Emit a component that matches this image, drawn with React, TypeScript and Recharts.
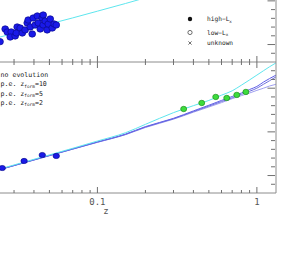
import React from "react";
import { ComposedChart, Line, Scatter, XAxis, YAxis } from "recharts";

// x axis (redshift, log)
const Z_MIN = 0.0103;
const Z_MAX = 1.318;
const X_MINOR = [0.02, 0.03, 0.04, 0.05, 0.06, 0.07, 0.08, 0.09, 0.2, 0.3, 0.4, 0.5, 0.6, 0.7, 0.8, 0.9];
const X_MAJOR = [0.1, 1];
const Y_TICKS = [1, 2, 3, 4, 5, 6, 7, 8, 9, 10, 11, 12, 13, 14];
const Y_MAJOR = [2, 7, 12];

// upper panel: high-Lx clusters
const topZ = [0.0245, 0.0264, 0.0272, 0.0288, 0.0284, 0.0305, 0.0314, 0.031, 0.0328, 0.0338, 0.0352, 0.0363, 0.0368, 0.0379, 0.039, 0.0396, 0.0407, 0.042, 0.0426, 0.0438, 0.0451, 0.0457, 0.0457, 0.0471, 0.0484, 0.0492, 0.0506, 0.0521, 0.0536, 0.0552];
const topV = [2.33, 3.78, 3.44, 3.44, 2.86, 2.98, 4.01, 3.32, 3.89, 3.32, 3.67, 4.47, 4.81, 4.01, 3.21, 5.04, 4.24, 5.27, 4.47, 3.78, 5.04, 4.24, 5.38, 4.7, 3.67, 4.35, 4.93, 3.89, 4.35, 4.24];
const topLineZ = [0.0103, 0.02, 0.03, 0.05, 0.07, 0.1, 0.15, 0.2, 0.3];
const topLineV = [1.06, 2.44, 3.28, 4.35, 5.05, 5.82, 6.7, 7.35, 8.2];

// lower panel
const lineZ = [0.0103, 0.02, 0.03, 0.05, 0.07, 0.1, 0.15, 0.2, 0.3, 0.4, 0.5, 0.6, 0.7, 0.8, 0.9, 1.0, 1.1, 1.2, 1.318];
const cyanV = [0.76, 2.29, 3.21, 4.36, 5.12, 5.95, 6.9, 7.86, 9.2, 10.0, 10.6, 11.2, 11.7, 12.35, 12.95, 13.5, 14.0, 14.45, 14.9];
const blueV = [0.7, 2.25, 3.15, 4.3, 5.05, 5.85, 6.75, 7.6, 8.55, 9.4, 10.05, 10.6, 11.05, 11.45, 11.85, 12.2, 12.7, 13.1, 13.5];
const slateV = [0.7, 2.24, 3.14, 4.28, 5.03, 5.82, 6.7, 7.55, 8.5, 9.32, 9.95, 10.47, 10.9, 11.3, 11.65, 12.0, 12.45, 12.85, 13.3];
const lavenderV = [0.7, 2.23, 3.13, 4.27, 5.02, 5.8, 6.68, 7.5, 8.45, 9.25, 9.85, 10.35, 10.8, 11.15, 11.45, 11.75, 12.0, 12.25, 12.45];
const nearZ = [0.0253, 0.0347, 0.0451, 0.0552];
const nearV = [2.86, 3.67, 4.35, 4.24];
const farZ = [0.3475, 0.451, 0.552, 0.647, 0.748, 0.853];
const farV = [9.62, 10.31, 11.0, 10.88, 11.23, 11.57];

const zip = (zs: number[], vs: number[]) => zs.map((z, i) => ({ z, v: vs[i] }));

const AXIS = "#8c8c8c";
const TICK = "#707070";
const MONO = "'DejaVu Sans Mono', monospace";

function XTick(props: any) {
  const { x, y, payload, labels, both } = props;
  const major = X_MAJOR.includes(payload.value);
  const len = major ? 6 : 3;
  return (
    <g>
      <line x1={x} x2={x} y1={both ? y + len : y} y2={y - len} stroke={TICK} strokeWidth={1} />
      {labels && major && (
        <text x={x} y={y + 12} textAnchor="middle" fontSize={9} fontFamily={MONO} fill="#555">
          {payload.value}
        </text>
      )}
    </g>
  );
}

function YTick(props: any) {
  const { x, y, payload } = props;
  const len = Y_MAJOR.includes(payload.value) ? 7.5 : 4;
  return <line x1={x - 1} x2={x - 1 - len} y1={y} y2={y} stroke={TICK} strokeWidth={1} />;
}

const dotShape = (fill: string, stroke: string, rx: number, ry: number) => (p: any) => (
  <ellipse cx={p.cx} cy={p.cy} rx={rx} ry={ry} fill={fill} stroke={stroke} strokeWidth={0.7} />
);

export default function App() {
  const xAxisCommon = {
    dataKey: "z",
    type: "number" as const,
    scale: "log" as const,
    domain: [Z_MIN, Z_MAX],
    allowDataOverflow: true,
    ticks: [...X_MINOR, ...X_MAJOR],
    interval: 0 as const,
    tickLine: false,
    tickSize: 0,
    tickMargin: 0,
    stroke: AXIS,
  };
  const yAxisCommon = {
    dataKey: "v",
    type: "number" as const,
    orientation: "right" as const,
    width: 1,
    mirror: true,
    domain: [0, 15],
    allowDataOverflow: true,
    ticks: Y_TICKS,
    interval: 0 as const,
    tickLine: false,
    tickSize: 0,
    tickMargin: 0,
    stroke: AXIS,
    tick: (p: any) => <YTick {...p} />,
  };

  return (
    <div style={{ position: "absolute", left: 0, top: 0, width: 282, height: 257, overflow: "hidden", background: "#fff" }}>
      <div style={{ position: "absolute", left: -60, top: 0 }}>
        <ComposedChart width={342} height={257} margin={{ top: 62, right: 6, bottom: 0, left: 0 }}>
          <XAxis {...xAxisCommon} height={64} tick={(p: any) => <XTick {...p} labels />} />
          <YAxis {...yAxisCommon} />
          <Line data={zip(lineZ, lavenderV)} dataKey="v" stroke="#a0a0f0" strokeWidth={1} dot={false} type="monotone" isAnimationActive={false} />
          <Line data={zip(lineZ, slateV)} dataKey="v" stroke="#7070dc" strokeWidth={1} dot={false} type="monotone" isAnimationActive={false} />
          <Line data={zip(lineZ, blueV)} dataKey="v" stroke="#6060e8" strokeWidth={1} dot={false} type="monotone" isAnimationActive={false} />
          <Line data={zip(lineZ, cyanV)} dataKey="v" stroke="#5ee6ee" strokeWidth={1} dot={false} type="monotone" isAnimationActive={false} />
          <Scatter data={zip(nearZ, nearV)} dataKey="v" shape={dotShape("#1a1ae8", "#0a0a90", 3.2, 2.6)} isAnimationActive={false} />
          <Scatter data={zip(farZ, farV)} dataKey="v" shape={dotShape("#3cdc3c", "#1e901e", 3.0, 2.7)} isAnimationActive={false} />
        </ComposedChart>
      </div>
      <div style={{ position: "absolute", left: -60, top: -69 }}>
        <ComposedChart width={342} height={141} margin={{ top: 0, right: 6, bottom: 0, left: 0 }}>
          <XAxis {...xAxisCommon} height={10} tick={(p: any) => <XTick {...p} both />} />
          <YAxis {...yAxisCommon} />
          <Line data={zip(topLineZ, topLineV)} dataKey="v" stroke="#5ee6ee" strokeWidth={1} dot={false} type="linear" isAnimationActive={false} />
          <Scatter data={zip(topZ, topV)} dataKey="v" shape={dotShape("#1a1ae8", "#0a0a90", 3.4, 3.2)} isAnimationActive={false} />
        </ComposedChart>
      </div>
      <svg width={282} height={257} style={{ position: "absolute", left: 0, top: 0 }}>
        <g fontFamily={MONO} fill="#222">
          <circle cx={190} cy={19} r={2.2} fill="#111" />
          <text x={207} y={21} fontSize={6.2}>
            high−L<tspan fontSize={4.2} dy={1.5}>x</tspan>
          </text>
          <circle cx={190} cy={32.5} r={2.1} fill="none" stroke="#333" strokeWidth={0.7} />
          <text x={207} y={34.5} fontSize={6.2}>
            low−L<tspan fontSize={4.2} dy={1.5}>x</tspan>
          </text>
          <g stroke="#333" strokeWidth={0.7}>
            <line x1={188.4} x2={191.6} y1={41.4} y2={44.6} />
            <line x1={188.4} x2={191.6} y1={44.6} y2={41.4} />
          </g>
          <text x={207} y={45} fontSize={6.2}>unknown</text>
          <text x={0.5} y={77.3} fontSize={6.6}>no evolution</text>
          {["10", "5", "2"].map((zf, i) => (
            <text key={zf} x={0.5} y={86.3 + i * 9.3} fontSize={6.6}>
              p.e. z<tspan fontSize={4.4} dy={1.3}>form</tspan>
              <tspan dy={-1.3}>={zf}</tspan>
            </text>
          ))}
          <text x={106} y={214} fontSize={9} fill="#555" textAnchor="middle">z</text>
        </g>
      </svg>
    </div>
  );
}
